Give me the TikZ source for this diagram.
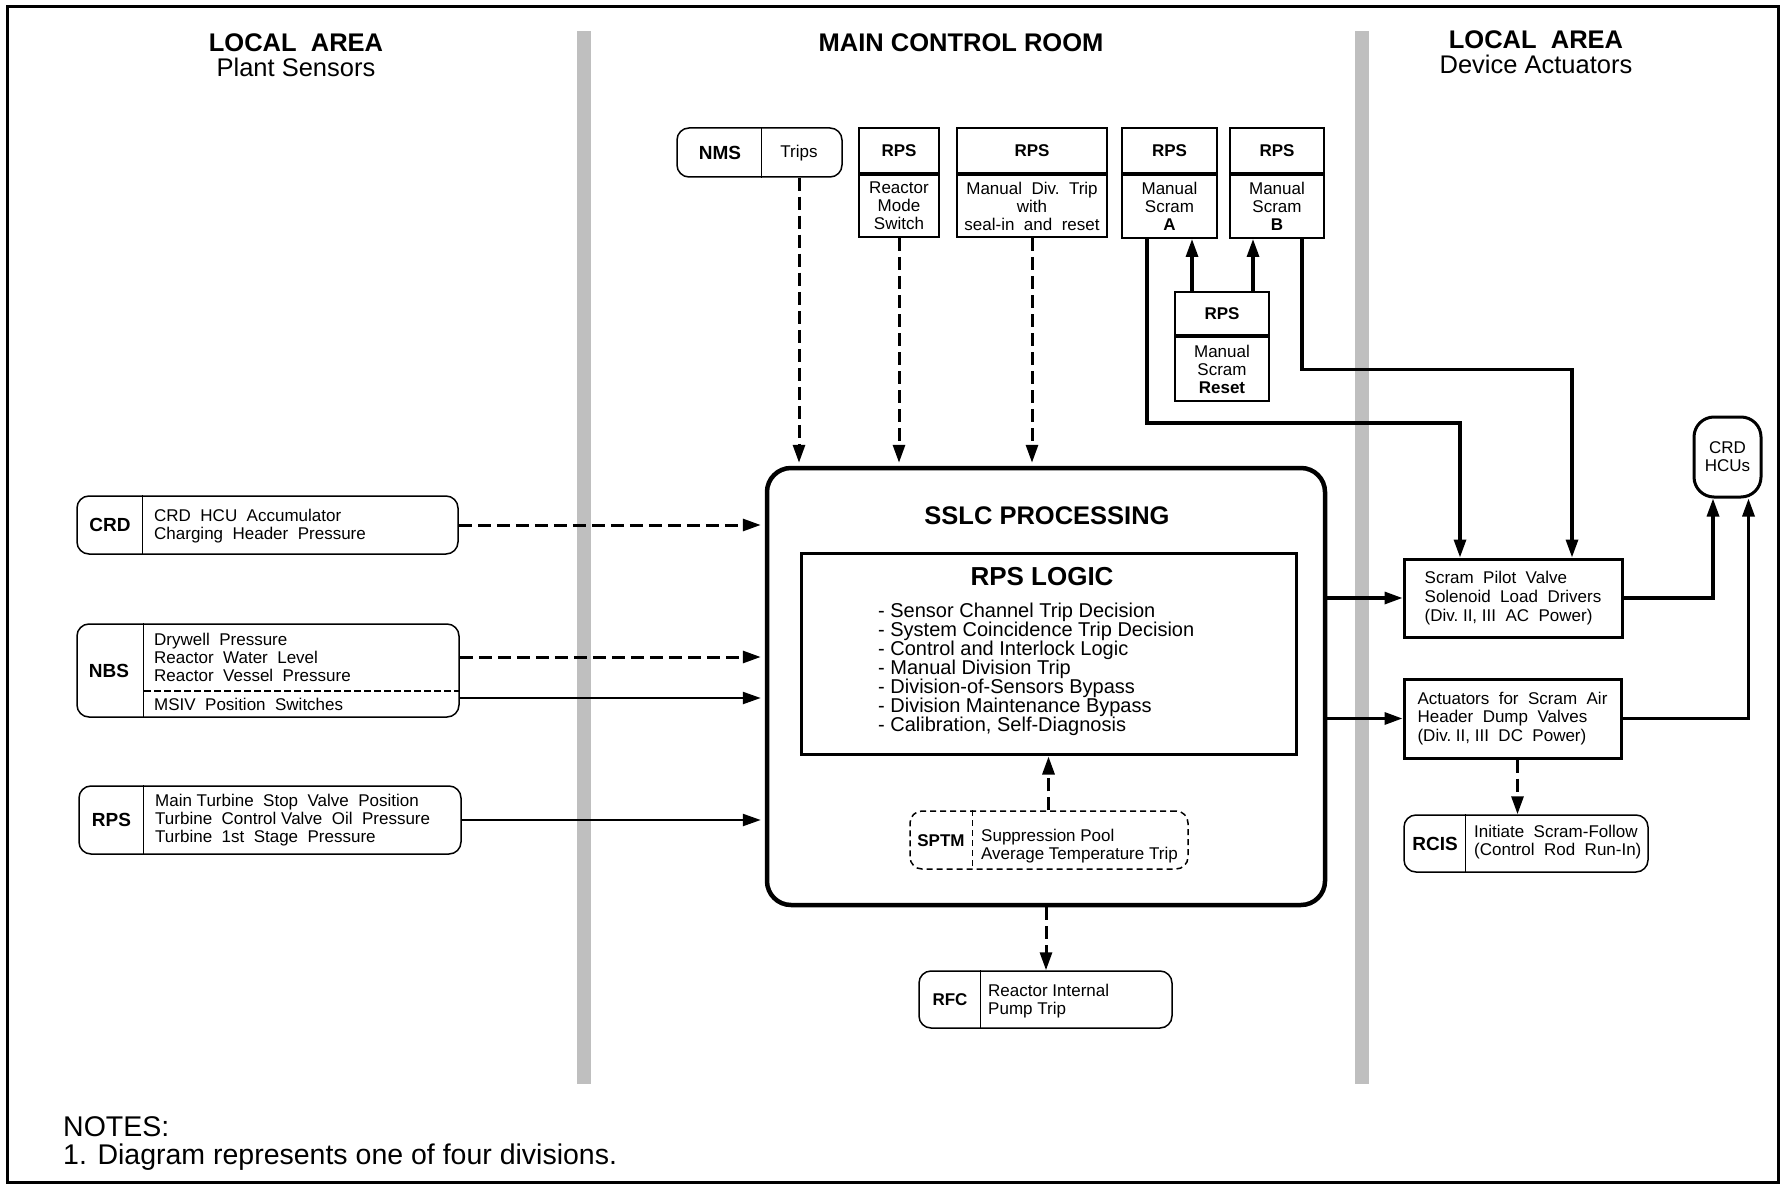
\documentclass[tikz,border=0pt]{standalone}
\usepackage{fontspec}
\setmainfont{Liberation Sans}
\usetikzlibrary{arrows.meta,positioning}

\newcommand{\smallfnt}{\fontsize{17}{18}\selectfont}

\begin{document}
\begin{tikzpicture}[x=1pt, y=-1pt,
	zonehead/.style={font=\bfseries\fontsize{25.5}{26}\selectfont, inner sep=0pt},
	zonesub/.style={font=\fontsize{25.5}{26}\selectfont, inner sep=0pt},
	rbox/.style={draw, line width=1.5pt, rounded corners=12pt, inner sep=0pt},
	hbox/.style={draw, line width=2pt, inner sep=0pt, font=\bfseries\smallfnt},
	bbox/.style={draw, line width=2pt, inner sep=0pt, align=center, font=\smallfnt},
	abox/.style={draw, line width=3pt, inner sep=0pt, align=left, font=\fontsize{17}{18.8}\selectfont},
	tagname/.style={font=\bfseries\fontsize{19}{20}\selectfont, inner sep=0pt},
	tagsmall/.style={font=\bfseries\smallfnt, inner sep=0pt},
	txt/.style={font=\smallfnt, align=left, inner sep=0pt},
	arr/.style={-{Triangle[length=18pt,width=12pt]}, line width=3.2pt},
	thinarr/.style={arr, line width=2.4pt},
	darr/.style={arr, dash pattern=on 13pt off 6pt, line width=3pt}
]
	\useasboundingbox (0,0) rectangle (1781,1185);

	% Frame and area walls
	\draw[line width=3pt] (7,7) rectangle (1778,1182);
	\fill[gray!50] (577,31) rectangle (591,1084);
	\fill[gray!50] (1355,31) rectangle (1369,1084);

	% Area titles
	\node[zonehead] (lzone) at (296,43) {LOCAL\ \ AREA};
	\node[zonesub, below=6pt of lzone] (lsub) {Plant Sensors};
	\node[zonehead] (mcr) at (961,43) {MAIN CONTROL ROOM};
	\node[zonehead] (rzone) at (1536,40) {LOCAL\ \ AREA};
	\node[zonesub, below=6pt of rzone] (rsub) {Device Actuators};

	% Top inputs
	\node[rbox, minimum width=165pt, minimum height=49pt] (nms) at (759.5,152.5) {};
	\draw[line width=1pt] ([xshift=85pt]nms.north west) -- ([xshift=85pt]nms.south west);
	\node[tagname] (nmsl) at (720,152.5) {NMS};
	\node[txt] (nmst) at (799,153) {Trips};

	\node[hbox, minimum width=80pt, minimum height=45pt] (rmh) at (899,150.5) {RPS};
	\node[bbox, minimum width=80pt, minimum height=62pt, below=0pt of rmh] (rmb) {Reactor\\Mode\\Switch};

	\node[hbox, minimum width=150pt, minimum height=45pt] (mdh) at (1032,150.5) {RPS};
	\node[bbox, minimum width=150pt, minimum height=62pt, below=0pt of mdh] (mdb) {Manual\ \ Div.\ \ Trip\\with\\seal-in\ \ and\ \ reset};

	\node[hbox, minimum width=95pt, minimum height=45pt] (sah) at (1169.5,150.5) {RPS};
	\node[bbox, minimum width=95pt, minimum height=63pt, below=0pt of sah] (sab) {Manual\\Scram\\\textbf{A}};

	\node[hbox, minimum width=94pt, minimum height=45pt] (sbh) at (1277,150.5) {RPS};
	\node[bbox, minimum width=94pt, minimum height=63pt, below=0pt of sbh] (sbb) {Manual\\Scram\\\textbf{B}};

	\node[hbox, minimum width=94pt, minimum height=43pt] (rsh) at (1222,313.5) {RPS};
	\node[bbox, minimum width=94pt, minimum height=64pt, below=0pt of rsh] (rsb) {Manual\\Scram\\\textbf{Reset}};

	% SSLC processing
	\node[draw, line width=4.5pt, rounded corners=24pt, minimum width=558pt, minimum height=437pt] (sslc) at (1046,686.5) {};
	\node[font=\bfseries\fontsize{25.5}{26}\selectfont, inner sep=0pt] (sslct) at (1047,516) {SSLC PROCESSING};
	\node[draw, line width=3pt, minimum width=495pt, minimum height=201pt] (logic) at (1048.5,653.5) {};
	\node[font=\bfseries\fontsize{26}{27}\selectfont, inner sep=0pt] (logict) at (1042,577) {RPS LOGIC};
	\node[font=\fontsize{20}{19.1}\selectfont, align=left, inner sep=0pt, anchor=north west] (logicl) at (878,602.5)
		{- Sensor Channel Trip Decision\\- System Coincidence Trip Decision\\- Control and Interlock Logic\\- Manual Division Trip\\- Division-of-Sensors Bypass\\- Division Maintenance Bypass\\- Calibration, Self-Diagnosis};

	\node[draw, line width=1.5pt, dash pattern=on 6pt off 4pt, rounded corners=12pt, minimum width=278pt, minimum height=58pt] (sptm) at (1049,840) {};
	\draw[line width=1.2pt, dash pattern=on 6pt off 4pt] ([xshift=63pt]sptm.north west) -- ([xshift=63pt]sptm.south west);
	\node[tagsmall] (sptml) at (941,840.5) {SPTM};
	\node[txt, anchor=west] (sptmt) at (981,846) {Suppression\ Pool\\Average\ Temperature\ Trip};

	\node[rbox, minimum width=253pt, minimum height=57pt] (rfc) at (1045.5,999.5) {};
	\draw[line width=1pt] ([xshift=62.5pt]rfc.north west) -- ([xshift=62.5pt]rfc.south west);
	\node[tagsmall] (rfcl) at (950,999.5) {RFC};
	\node[txt, anchor=west] (rfct) at (988,1001) {Reactor Internal\\Pump Trip};

	% Plant sensors
	\node[rbox, minimum width=381pt, minimum height=58pt] (crd) at (267.5,525) {};
	\draw[line width=1pt] ([xshift=66pt]crd.north west) -- ([xshift=66pt]crd.south west);
	\node[tagname] (crdl) at (110,525) {CRD};
	\node[txt, anchor=west] (crdt) at (154,526) {CRD\ \ HCU\ \ Accumulator\\Charging\ \ Header\ \ Pressure};

	\node[rbox, minimum width=382pt, minimum height=93pt] (nbs) at (268,670.5) {};
	\draw[line width=1pt] ([xshift=67pt]nbs.north west) -- ([xshift=67pt]nbs.south west);
	\coordinate (nbsd) at (144,691);
	\draw[line width=1.8pt, dash pattern=on 7pt off 3pt] (nbsd) -- (nbsd -| nbs.east);
	\node[tagname] (nbsl) at (109,671) {NBS};
	\node[txt, anchor=west] (nbst) at (154,657) {Drywell\ \ Pressure\\Reactor\ \ Water\ \ Level\\Reactor\ \ Vessel\ \ Pressure};
	\node[txt, anchor=west] (msiv) at (154,704) {MSIV\ \ Position\ \ Switches};

	\node[rbox, minimum width=382pt, minimum height=68pt] (rps) at (270,820) {};
	\draw[line width=1pt] ([xshift=65pt]rps.north west) -- ([xshift=65pt]rps.south west);
	\node[tagname] (rpsl) at (111.5,820) {RPS};
	\node[txt, anchor=west] (rpst) at (155,820) {Main Turbine\ \ Stop\ \ Valve\ \ Position\\Turbine\ \ Control Valve\ \ Oil\ \ Pressure\\Turbine\ \ 1st\ \ Stage\ \ Pressure};

	% Device actuators
	\node[abox, minimum width=218pt, minimum height=78pt] (spv) at (1513,598) {Scram\ \ Pilot\ \ Valve\\Solenoid\ \ Load\ \ Drivers\\(Div.\ II,\ III\ \ AC\ \ Power)};
	\node[abox, minimum width=217pt, minimum height=79pt] (act) at (1512.5,718.5) {Actuators\ \ for\ \ Scram\ \ Air\\Header\ \ Dump\ \ Valves\\(Div.\ II,\ III\ \ DC\ \ Power)};
	\node[draw, line width=3pt, rounded corners=20pt, minimum width=67pt, minimum height=80pt, inner sep=0pt, align=center, font=\smallfnt] (hcu) at (1727.5,457) {CRD\\HCUs};

	\node[rbox, minimum width=244pt, minimum height=57pt] (rcis) at (1526,843.5) {};
	\draw[line width=1pt] ([xshift=62pt]rcis.north west) -- ([xshift=62pt]rcis.south west);
	\node[tagname] (rcisl) at (1435,843.5) {RCIS};
	\node[txt, anchor=west] (rcist) at (1474,842.5) {Initiate\ \ Scram-Follow\\(Control\ \ Rod\ \ Run-In)};

	% Notes
	\node[font=\fontsize{28.5}{28}\selectfont, align=left, inner sep=0pt, anchor=west] (notes) at (63,1143) {NOTES:\\1. Diagram represents one of four divisions.};

	% Inputs to SSLC
	\draw[darr, shorten >=3pt] (nmst |- nms.south) -- (nmst |- sslc.north);
	\draw[darr, shorten >=3pt] (rmb.south) -- (rmb.south |- sslc.north);
	\draw[darr, shorten >=3pt] (mdb.south) -- (mdb.south |- sslc.north);
	\draw[darr, shorten >=4pt] (crd.east) -- (crd.east -| sslc.west);
	\draw[darr, shorten >=4pt] ([yshift=13.5pt]nbs.east) -- ([yshift=13.5pt]nbs.east -| sslc.west);
	\draw[thinarr, shorten >=4pt] ([yshift=-27.5pt]nbs.east) -- ([yshift=-27.5pt]nbs.east -| sslc.west);
	\draw[thinarr, shorten >=4pt] (rps.east) -- (rps.east -| sslc.west);
	\draw[darr, shorten >=1pt] (sptm.north -| logic.south) -- (logic.south);

	% Manual scram
	\draw[arr] ([xshift=-30pt]rsh.north) -- ([xshift=-30pt]rsh.north |- sab.south);
	\draw[arr] ([xshift=31pt]rsh.north) -- ([xshift=31pt]rsh.north |- sbb.south);
	\coordinate (ka) at (1460,423);
	\coordinate (kb) at (1572,369.5);
	\draw[arr] ([xshift=-22.5pt]sab.south) |- (ka) -- (ka |- spv.north);
	\draw[arr] ([xshift=25pt]sbb.south) |- (kb) -- (kb |- spv.north);

	% Outputs
	\draw[arr] (sslc.east |- spv.west) -- (spv.west);
	\draw[arr] (sslc.east |- act.west) -- (act.west);
	\draw[arr] (spv.east) -| ([xshift=-14.5pt]hcu.south);
	\draw[arr] (act.east) -| ([xshift=21pt]hcu.south);
	\draw[darr] ([xshift=5pt]act.south) -- ([xshift=5pt]act.south |- rcis.north);
	\draw[darr] (sslc.south) -- (sslc.south |- rfc.north);

\end{tikzpicture}
\end{document}
